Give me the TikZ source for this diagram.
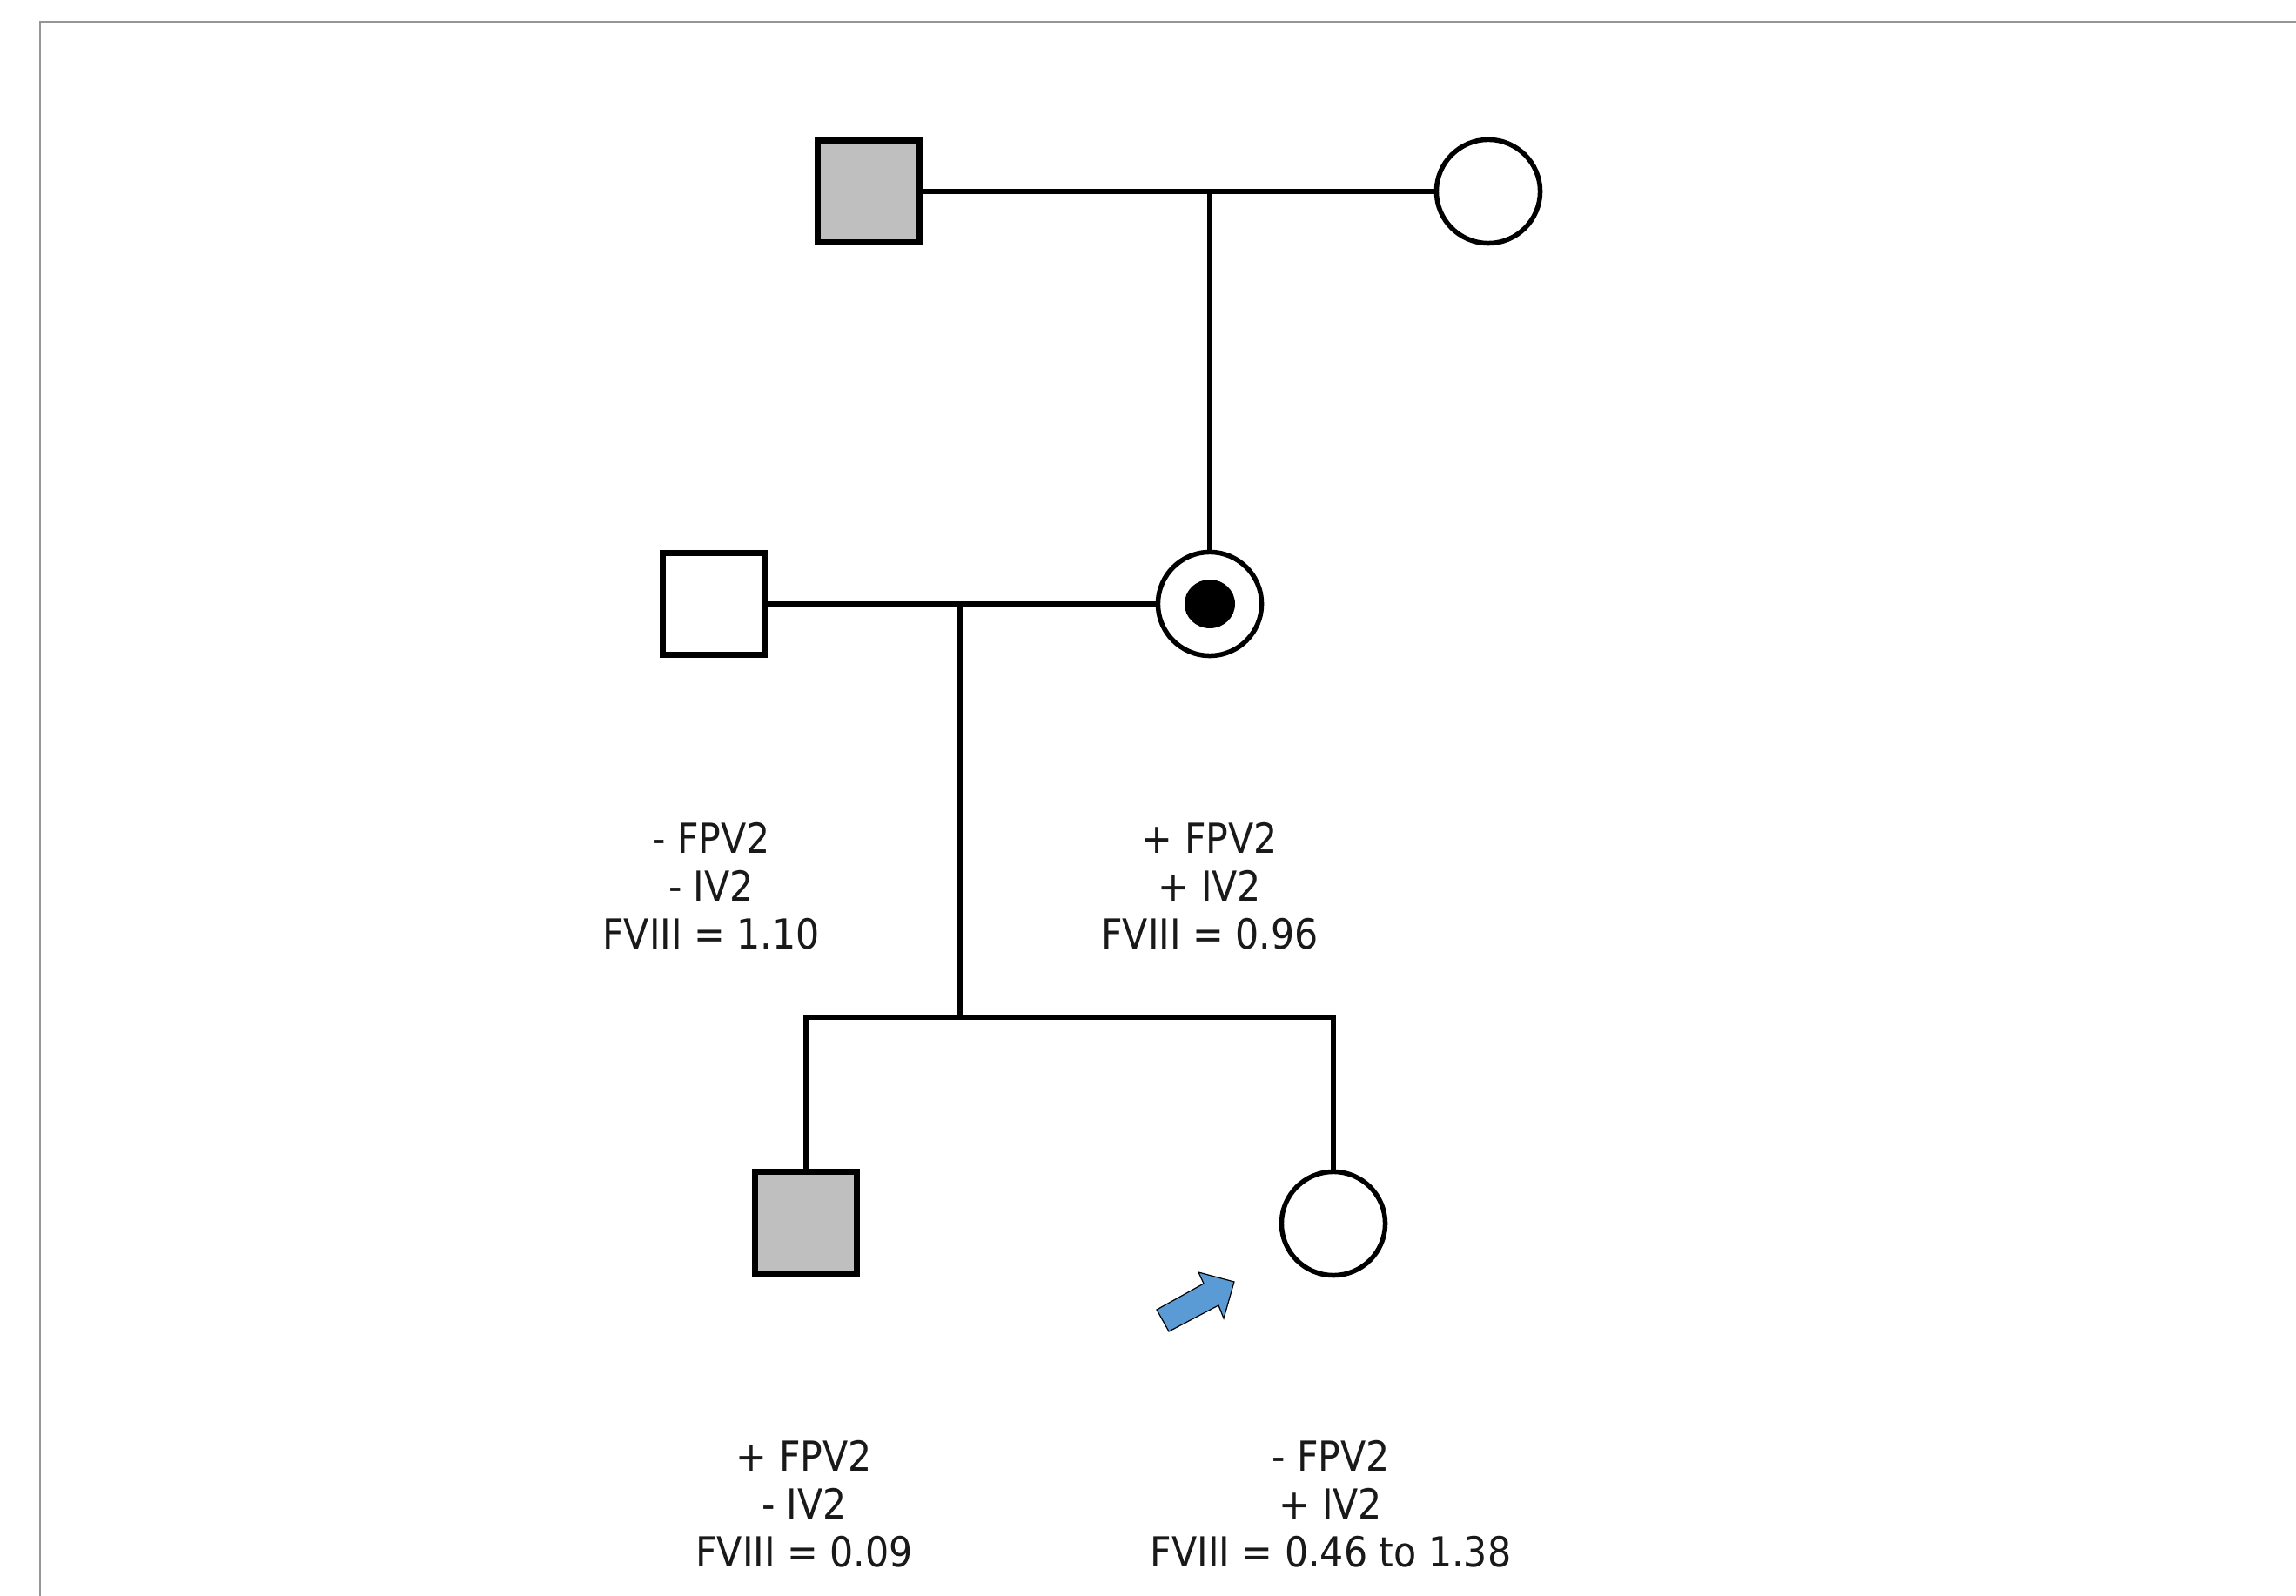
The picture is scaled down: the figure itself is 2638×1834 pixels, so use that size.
\documentclass[tikz,border=0pt]{standalone}
\usepackage{fontspec}
\setmainfont{DejaVu Sans Condensed}
\definecolor{affgray}{RGB}{191,191,191}
\definecolor{arrowblue}{RGB}{91,155,213}
\definecolor{framegray}{RGB}{150,150,150}
\begin{document}
\begin{tikzpicture}[x=0.01cm,y=-0.01cm,
  person/.style={draw=black,line width=0.065cm,inner sep=0pt},
  male/.style={person,rectangle,minimum size=1.17cm},
  female/.style={person,circle,minimum size=1.19cm,line width=0.055cm},
  affected/.style={fill=affgray},
  link/.style={draw=black,line width=0.062cm},
  info/.style={align=center,text=black!90,font=\fontsize{13.5}{15.7}\selectfont,inner sep=0pt}
]
\useasboundingbox (0,0) rectangle (2638,1834);
\fill[white] (0,0) rectangle (2638,1834);
\draw[framegray,line width=0.02cm] (46,1834) -- (46,25) -- (2638,25);

% generation I
\node[male,affected] (gf) at (998,220) {};
\node[female] (gm) at (1710,220) {};
% generation II
\node[male] (fa) at (820,694) {};
\node[female] (mo) at (1390,694) {};
\fill[black] (mo.center) ellipse [x radius=29, y radius=28];
% generation III
\node[male,affected] (c1) at (926,1405) {};
\node[female] (c2) at (1532,1406) {};

% connectors
\coordinate (m1) at (1390,220);
\coordinate (m2) at (1103,694);
\coordinate (sib) at (1103,1169);
\draw[link] (gf.east) -- (gm.west);
\draw[link] (m1) -- (mo.north);
\draw[link] (fa.east) -- (mo.west);
\draw[link] (m2) -- (sib);
\draw[link] (c1.north) -- (c1.north |- sib) -- (c2.north |- sib) -- (c2.north);

% labels
\node[info] (lfa) at (817,1018) {- FPV2\\- IV2\\FVIII = 1.10};
\node[info] (lmo) at (1390,1018) {+ FPV2\\+ IV2\\FVIII = 0.96};
\node[info] (lc1) at (924,1728) {+ FPV2\\- IV2\\FVIII = 0.09};
\node[info] (lc2) at (1529,1728) {- FPV2\\+ IV2\\FVIII = 0.46 to 1.38};

% proband arrow
\draw[fill=arrowblue,draw=black,line width=0.012cm,line join=miter]
  (1329,1505) -- (1383,1475) -- (1377,1462) -- (1418,1473) -- (1406,1515) -- (1400,1500) -- (1343,1530) -- cycle;
\end{tikzpicture}
\end{document}
